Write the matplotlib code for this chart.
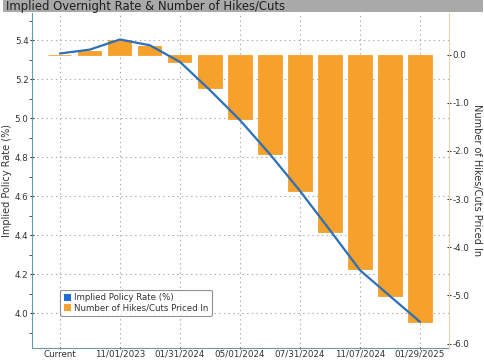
import matplotlib
matplotlib.use('Agg')

import matplotlib.pyplot as plt
from matplotlib.patches import Patch, Rectangle

# horizon labels, one per meeting bar (only every other one is labelled)
tick_pos = [0, 2, 4, 6, 8, 10, 12]
tick_labels = ['Current', '11/01/2023', '01/31/2024', '05/01/2024',
               '07/31/2024', '11/07/2024', '01/29/2025']

# implied policy rate (%) per meeting
rate = [5.332, 5.352, 5.404, 5.374, 5.289, 5.144, 4.99,
        4.815, 4.627, 4.425, 4.22, 4.087, 3.955]

# number of hikes / cuts priced in
hikes = [0.0, 0.08, 0.30, 0.17, -0.16, -0.70, -1.34,
         -2.06, -2.84, -3.68, -4.45, -5.02, -5.54]

left_ticks = [4.0, 4.2, 4.4, 4.6, 4.8, 5.0, 5.2, 5.4]
right_ticks = [0, -1, -2, -3, -4, -5, -6]

orange = '#F5A12B'
blue = '#2C6FBA'

fig = plt.figure(figsize=(4.85, 3.6), dpi=100)
plt.rcParams['font.family'] = ['DejaVu Sans']

# title bar
fig.patches.append(Rectangle((0.006, 0.966), 0.99, 0.034, transform=fig.transFigure,
                             facecolor='#A9A9A9', edgecolor='none'))
fig.text(0.012, 0.983, 'Implied Overnight Rate & Number of Hikes/Cuts',
         fontsize=8.4, color='#1E1E1E', va='center', ha='left')

ax = fig.add_axes([0.066, 0.034, 0.86, 0.93])
x = list(range(len(rate)))

ax.set_xlim(-0.93, 12.97)
ax.set_ylim(3.822, 5.54)
ax.set_yticks(left_ticks)
ax.set_yticklabels(['%.1f' % v for v in left_ticks])
ax.set_yticks([3.9, 4.1, 4.3, 4.5, 4.7, 4.9, 5.1, 5.3, 5.5], minor=True)
ax.set_xticks(tick_pos)
ax.set_xticklabels(tick_labels)
ax.grid(True, which='major', linestyle=(0, (1.2, 3)), color='#A8A8A8', linewidth=0.8)
ax.tick_params(axis='both', labelsize=6.3, colors='#333333', length=3, pad=1,
               direction='inout')
ax.tick_params(axis='x', pad=0.5, length=2)
ax.tick_params(axis='y', which='minor', length=2, color='#333333')
ax.set_ylabel('Implied Policy Rate (%)', fontsize=7, color='#333333', labelpad=2)
ax.spines['left'].set_color('#5E9FB0')
ax.spines['bottom'].set_color('#6A9A9A')
ax.spines['top'].set_visible(False)
ax.spines['right'].set_visible(False)

# bars on right-hand axis
axb = ax.twinx()
axb.bar(x, hikes, width=0.77, color=orange, edgecolor=orange, linewidth=0.6, zorder=2)
axb.set_ylim(-6.085, 0.865)
axb.set_yticks(right_ticks)
axb.set_yticklabels(['%.1f' % v for v in right_ticks])
axb.tick_params(axis='y', labelsize=6.3, colors='#333333', length=3, pad=1,
                direction='inout')
axb.set_ylabel('Number of Hikes/Cuts Priced In', fontsize=7, color='#333333',
               rotation=-90, labelpad=9)
axb.spines['right'].set_color('#E2D9B2')
axb.spines['left'].set_visible(False)
axb.spines['top'].set_visible(False)
axb.spines['bottom'].set_visible(False)

# rate line on top, sharing the left scale
axl = ax.twinx()
axl.set_ylim(ax.get_ylim())
axl.plot(x, rate, color=blue, linewidth=1.6, solid_capstyle='round', zorder=3)
axl.set_yticks([])
for s in axl.spines.values():
    s.set_visible(False)

handles = [Patch(facecolor='#1F6FD6', label='Implied Policy Rate (%)'),
           Patch(facecolor=orange, label='Number of Hikes/Cuts Priced In')]
leg = axl.legend(handles=handles, loc='lower left', bbox_to_anchor=(0.068, 0.095),
                 fontsize=6.2, frameon=True, fancybox=True, handlelength=0.8,
                 handleheight=0.8, handletextpad=0.4, borderpad=0.4,
                 labelspacing=0.15, borderaxespad=0)
leg.get_frame().set_edgecolor('#777777')
leg.get_frame().set_linewidth(0.8)
for t in leg.get_texts():
    t.set_color('#333333')

fig.savefig('out.png', dpi=100)
